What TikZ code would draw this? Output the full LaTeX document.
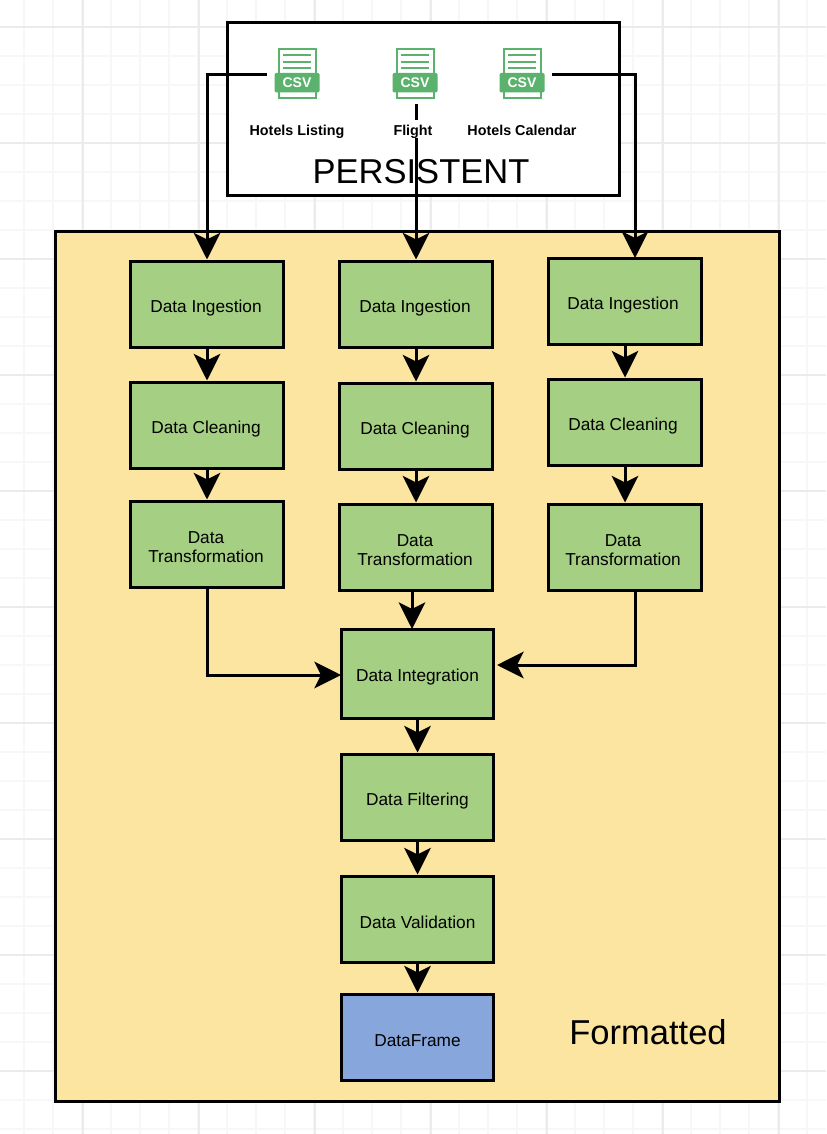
\documentclass[tikz,border=0pt]{standalone}
\usepackage{fontspec}
\setmainfont{Liberation Sans}
\usetikzlibrary{arrows.meta}

\definecolor{panelyellow}{HTML}{FCE5A0}
\definecolor{stepgreen}{HTML}{A5CF82}
\definecolor{frameblue}{HTML}{87A7DC}
\definecolor{csvgreen}{HTML}{5BB26C}

\tikzset{
  stage/.style={draw, line width=2.25pt, fill=stepgreen, minimum width=114.4pt,
    minimum height=64.5pt, align=center, inner sep=0pt, font=\fontsize{12.95pt}{14.2pt}\selectfont,
    execute at begin node={\rule{0pt}{14.8pt}}},
  twoline/.style={execute at begin node={\rule{0pt}{28.3pt}}},
  nudge/.style={execute at begin node={\kern#1}},
  flow/.style={draw, line width=2.25pt, -{Stealth[length=20pt,width=20pt,inset=5pt]}},
  filelabel/.style={fill=white, inner sep=1.5pt, text height=10.25pt, text depth=0.25pt,
    font=\fontsize{10.75pt}{12pt}\selectfont\bfseries},
  bigtitle/.style={inner sep=0pt, font=\fontsize{25.9pt}{31pt}\selectfont},
  csvfile/.style={minimum width=45pt, minimum height=43.5pt, inner sep=0pt},
}

\begin{document}
\begin{tikzpicture}[x=0.75pt, y=-0.75pt]
\useasboundingbox (0,0) rectangle (826,1134);

% grid of the canvas
\begin{scope}
\clip (0,0) rectangle (826,1134);
\foreach \k in {0,...,28} {
  \draw[black!3, line width=1pt] ({24+29*\k},0) -- ({24+29*\k},1134);
}
\foreach \k in {0,...,39} {
  \draw[black!3, line width=1pt] (0,{-2+29*\k}) -- (826,{-2+29*\k});
}
\foreach \k in {0,...,6} {
  \draw[black!8, line width=1pt] ({83+116*\k},0) -- ({83+116*\k},1134);
}
\foreach \k in {0,...,9} {
  \draw[black!8, line width=1pt] (0,{27+116*\k}) -- (826,{27+116*\k});
}
\end{scope}

\node[draw, line width=2.25pt, fill=panelyellow, minimum width=543pt, minimum height=651.75pt, inner sep=0pt] (formatted) at (417,666.5) {};
\node[draw, line width=2.25pt, fill=white, minimum width=294pt, minimum height=129.75pt, inner sep=0pt] (persistent) at (423,109.5) {};
\node[bigtitle] (persistentname) at (421,172) {PERSISTENT};
\node[bigtitle] (formattedname) at (648,1032) {Formatted};

% the three files
\foreach \csvname/\cx in {csvA/297, csvB/415, csvC/522} {
  \node[csvfile] (\csvname) at (\cx,75) {};
  \draw[csvgreen, line width=1.5pt, fill=white] (\cx-18.5,49.5) rectangle (\cx+18.5,98.5);
  \foreach \ly in {55.5,62,68.5}
    \draw[csvgreen, line width=1.5pt] (\cx-14,\ly) -- (\cx+14,\ly);
  \fill[csvgreen, rounded corners=1pt] (\cx-22.5,73) rectangle (\cx+22.5,92.5);
  \node[white, inner sep=0pt, font=\fontsize{10.5pt}{12pt}\selectfont\bfseries] (\csvname tag) at (\cx,83) {CSV};
}

\node[stage, nudge=-1.5pt] (ingA) at (207,304) {Data Ingestion};
\node[stage, nudge=-1.5pt] (cleanA) at (207,425) {Data Cleaning};
\node[stage, twoline, nudge=-1.5pt] (transA) at (207,544) {Data\\Transformation};

\node[stage, nudge=-1.5pt] (ingB) at (416,304) {Data Ingestion};
\node[stage, nudge=-1.5pt] (cleanB) at (416,426) {Data Cleaning};
\node[stage, twoline, nudge=-1.5pt] (transB) at (416,547) {Data\\Transformation};

\node[stage, nudge=-3pt] (ingC) at (625,301) {Data Ingestion};
\node[stage, nudge=-3pt] (cleanC) at (625,422) {Data Cleaning};
\node[stage, twoline, nudge=-3pt] (transC) at (625,547) {Data\\Transformation};

\node[stage, minimum height=66.75pt] (integration) at (417.5,673.5) {Data Integration};
\node[stage] (filtering) at (417.5,797) {Data Filtering};
\node[stage] (validation) at (417.5,919) {Data Validation};
\node[stage, fill=frameblue] (dataframe) at (417.5,1037) {DataFrame};

\coordinate (turnA) at (207,75);
\coordinate (turnC) at (635,75);
\coordinate (dropC) at (635,258);
\coordinate (cornerA) at (207,675);
\coordinate (cornerC) at (635,665);
\coordinate (startC) at (635,590);
\coordinate (startB) at (412,590);
\coordinate (endB) at (412,629);
\coordinate (endA) at (341,675);
\coordinate (endC) at (497,665);

\draw[flow] (csvA.west) -- (turnA) -- (ingA.north);
\draw[flow] (csvC.east) -- (turnC) -- (dropC);
\draw[flow] (ingB.north |- csvB.south) -- (ingB.north);

\draw[flow] (ingA) -- (cleanA);
\draw[flow] (cleanA) -- (transA);
\draw[flow] (ingB) -- (cleanB);
\draw[flow] (cleanB) -- (transB);
\draw[flow] (ingC) -- (cleanC);
\draw[flow] (cleanC) -- (transC);

\draw[flow] (transA.south) -- (cornerA) -- (endA);
\draw[flow] (startB) -- (endB);
\draw[flow] (startC) -- (cornerC) -- (endC);

\draw[flow] (integration) -- (filtering);
\draw[flow] (filtering) -- (validation);
\draw[flow] (validation) -- (dataframe);

% labels sit over the lines
\node[filelabel] (labelA) at (297,129) {Hotels Listing};
\node[filelabel] (labelB) at (413,129) {Flight};
\node[filelabel] (labelC) at (522,129) {Hotels Calendar};
\end{tikzpicture}
\end{document}
